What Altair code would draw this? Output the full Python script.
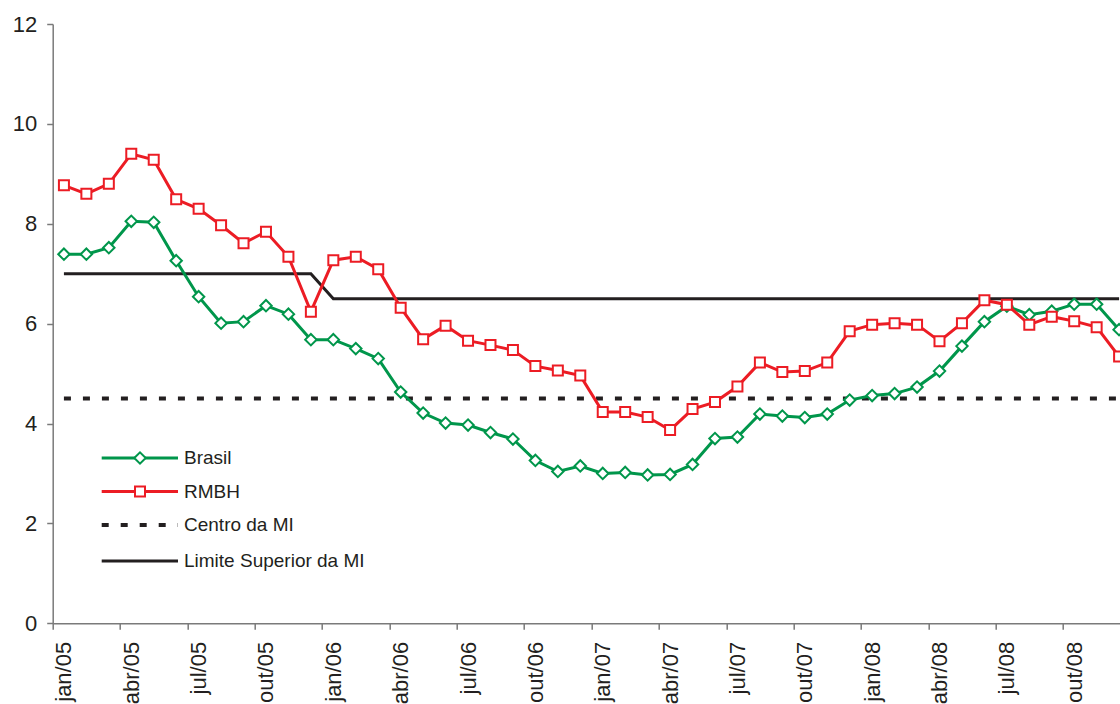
import json

import altair as alt
import pandas as pd

# Monthly IPCA, accumulated 12 months (%), jan/05 .. dez/08
meses = ["jan", "fev", "mar", "abr", "mai", "jun", "jul", "ago", "set", "out", "nov", "dez"]
anos = ["05", "06", "07", "08"]

brasil = [7.39, 7.39, 7.52, 8.05, 8.03, 7.26, 6.54, 6.01, 6.04, 6.36, 6.19, 5.68,
          5.68, 5.50, 5.30, 4.63, 4.21, 4.01, 3.97, 3.82, 3.69, 3.26, 3.04, 3.15,
          3.00, 3.02, 2.97, 2.98, 3.18, 3.70, 3.73, 4.19, 4.15, 4.12, 4.19, 4.47,
          4.56, 4.60, 4.73, 5.05, 5.55, 6.04, 6.35, 6.18, 6.25, 6.39, 6.39, 5.88]

rmbh = [8.77, 8.60, 8.80, 9.40, 9.28, 8.49, 8.30, 7.97, 7.61, 7.84, 7.34, 6.24,
        7.27, 7.34, 7.09, 6.32, 5.69, 5.96, 5.66, 5.57, 5.47, 5.15, 5.06, 4.96,
        4.23, 4.23, 4.13, 3.87, 4.29, 4.43, 4.74, 5.22, 5.03, 5.05, 5.22, 5.85,
        5.98, 6.01, 5.98, 5.65, 6.01, 6.47, 6.38, 5.98, 6.14, 6.05, 5.93, 5.34]

# Inflation target (meta de inflação) by year
limite_superior_por_ano = [7.0, 6.5, 6.5, 6.5]
centro_por_ano = [4.5, 4.5, 4.5, 4.5]

legenda = ["Brasil", "RMBH", "Centro da MI", "Limite Superior da MI"]

periodos = [f"{m}/{a}" for a in anos for m in meses]
rotulos = [p for i, p in enumerate(periodos) if i % 3 == 0]

df = pd.DataFrame({
    "idx": list(range(len(periodos))),
    "periodo": periodos,
    "brasil": brasil,
    "rmbh": rmbh,
    "limite": [limite_superior_por_ano[i // 12] for i in range(len(periodos))],
    "centro": [centro_por_ano[i // 12] for i in range(len(periodos))],
})

VERDE = "#00964b"
VERMELHO = "#ec1c24"
PRETO = "#231f20"
CINZA = "#7a7a7a"
FONTE = "Liberation Sans"

# x axis: ticks on the boundaries between quarters, labels centred on jan/abr/jul/out
tick_vals = [i - 0.5 for i in range(0, 48, 3)] + list(range(0, 48, 3))
label_expr = f"datum.value % 3 === 0 ? {json.dumps(rotulos)}[datum.value / 3] : ''"

x_enc = alt.X(
    "idx:Q",
    scale=alt.Scale(domain=[-0.5, 47.04], nice=False, zero=False),
    axis=alt.Axis(
        title="",
        values=tick_vals,
        labelExpr=label_expr,
        labelAngle=270,
        labelFontSize=22,
        labelFont=FONTE,
        labelColor=PRETO,
        labelPadding=12,
        labelOverlap=False,
        labelFlush=False,
        labelBound=False,
        tickSize=6,
        tickColor=CINZA,
        tickWidth=1.5,
        tickOpacity={"condition": {"test": "datum.value % 3 !== 0", "value": 1}, "value": 0},
        domainColor=CINZA,
        domainWidth=1.5,
        grid=False,
    ),
)


def y_enc(campo):
    return alt.Y(
        f"{campo}:Q",
        scale=alt.Scale(domain=[0, 12], nice=False, zero=True),
        axis=alt.Axis(
            title="",
            values=[0, 2, 4, 6, 8, 10, 12],
            labelFontSize=22,
            labelFont=FONTE,
            labelColor=PRETO,
            labelPadding=10,
            tickSize=6,
            tickColor=CINZA,
            tickWidth=1.5,
            domainColor=CINZA,
            domainWidth=1.5,
            grid=False,
        ),
    )


base = alt.Chart(df)

centro = base.mark_line(color=PRETO, strokeWidth=4, strokeDash=[7, 12]).encode(
    x=x_enc, y=y_enc("centro")
)
limite = base.mark_line(color=PRETO, strokeWidth=3).encode(x=x_enc, y=y_enc("limite"))
linha_brasil = base.mark_line(
    color=VERDE, strokeWidth=3,
    point=alt.OverlayMarkDef(shape="diamond", filled=True, fill="white",
                             stroke=VERDE, strokeWidth=2, size=130, opacity=1),
).encode(x=x_enc, y=y_enc("brasil"))
linha_rmbh = base.mark_line(
    color=VERMELHO, strokeWidth=3,
    point=alt.OverlayMarkDef(shape="square", filled=True, fill="white",
                             stroke=VERMELHO, strokeWidth=2, size=100, opacity=1),
).encode(x=x_enc, y=y_enc("rmbh"))

# Legend drawn inside the plot area (bottom-left)
vazio = alt.Data(values=[{}])
linhas_leg = [434, 467.5, 501, 537]
estilos = [
    dict(color=VERDE, strokeWidth=3),
    dict(color=VERMELHO, strokeWidth=3),
    dict(color=PRETO, strokeWidth=4, strokeDash=[7, 12]),
    dict(color=PRETO, strokeWidth=3),
]
simbolos = [("diamond", VERDE, 130), ("square", VERMELHO, 100), None, None]

camadas_leg = []
for nome, yy, estilo, simb in zip(legenda, linhas_leg, estilos, simbolos):
    camadas_leg.append(
        alt.Chart(vazio).mark_rule(**estilo).encode(
            x=alt.value(49), x2=alt.value(125.3), y=alt.value(yy)
        )
    )
    if simb is not None:
        forma, cor, tam = simb
        camadas_leg.append(
            alt.Chart(vazio).mark_point(shape=forma, filled=True, fill="white", stroke=cor,
                                        strokeWidth=2, size=tam, opacity=1).encode(
                x=alt.value(87.3), y=alt.value(yy)
            )
        )
    camadas_leg.append(
        alt.Chart(vazio).mark_text(align="left", baseline="middle", fontSize=19,
                                   font=FONTE, color=PRETO).encode(
            x=alt.value(131.3), y=alt.value(yy), text=alt.value(nome)
        )
    )

chart = alt.layer(centro, limite, linha_brasil, linha_rmbh, *camadas_leg).properties(
    width=1067.3,
    height=599.3,
    autosize=alt.AutoSizeParams(type="none"),
    padding={"left": 52.7, "top": 24, "right": 0, "bottom": 80.7},
    background="white",
).configure_view(stroke=None)

chart.save("out.html", embed_options={"renderer": "svg", "actions": False})
